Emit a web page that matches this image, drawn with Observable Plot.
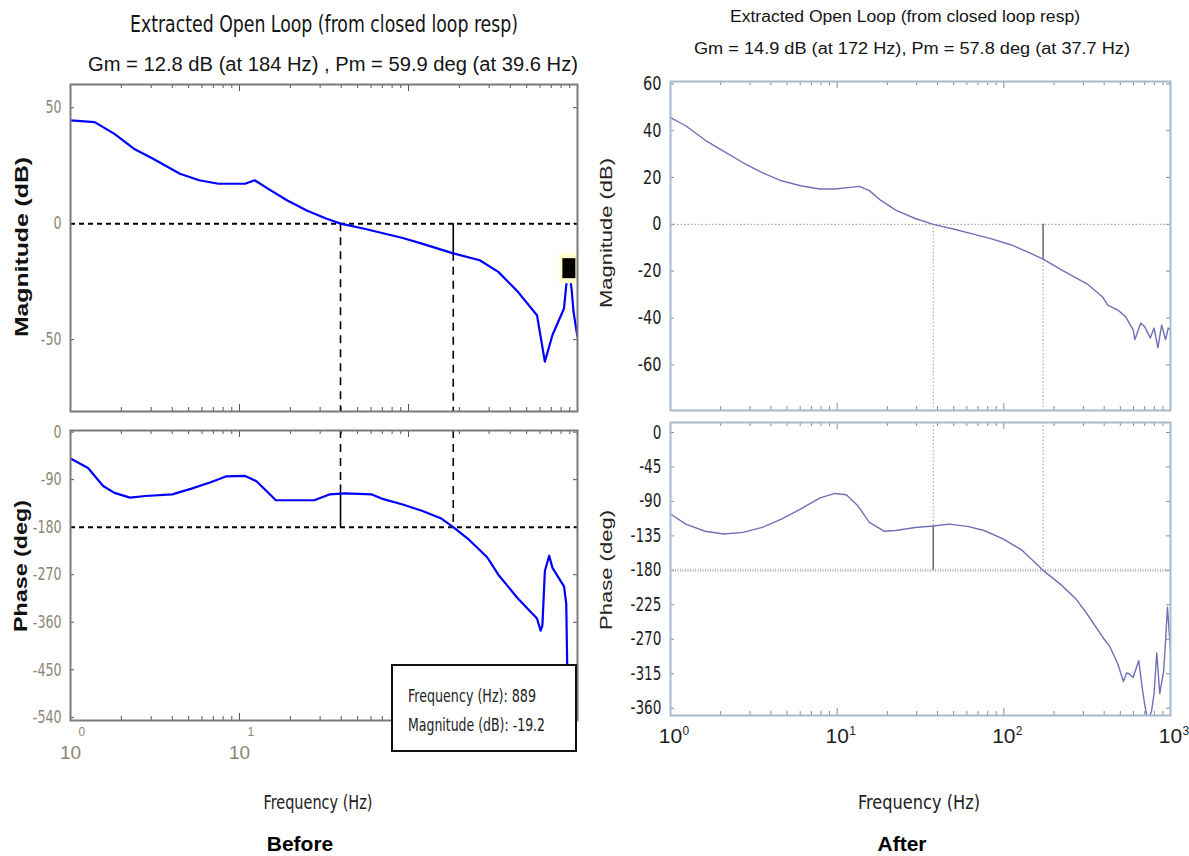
<!DOCTYPE html>
<html><head><meta charset="utf-8">
<script src="https://cdn.jsdelivr.net/npm/d3@7"></script>
<script src="https://cdn.jsdelivr.net/npm/@observablehq/plot@0.6"></script>
<style>
body{margin:0;background:#fff;}
#root{position:relative;width:1189px;height:856px;overflow:hidden;background:#fff;}
.panel{position:absolute;}
.panel svg{overflow:visible;}
</style></head><body><div id="root"></div>
<script>
// ---------- DATA ----------
const leftMagFreq = [1,1.39,1.82,2.37,3.08,4.44,5.77,7.5,10.8,12.3,14.8,19.2,25,32.5,39.6,54.8,92.5,120,184,264,340,444,576,641,711,832,858,889,901,925,947,1000];
const leftMagDb   = [44.5,43.8,38.7,32.3,28,21.5,18.7,17.2,17.2,18.7,15,10,5.7,2.2,0,-2.2,-6.2,-8.6,-12.8,-15.8,-20.8,-29.4,-39.5,-59.5,-48,-36.6,-26.5,-19.2,-22,-29,-38,-48.8];
const leftPhaseFreq = [1,1.27,1.56,1.82,2.25,2.77,4.0,5.2,6.75,8.3,10.8,12.6,14.8,16.4,27.7,34,42,60.7,71,92.5,120,155,184,225,292,340,444,576,605,620,641,680,711,832,858,870,875];
const leftPhaseDeg  = [-50,-68,-102,-115,-124,-121,-118,-107,-95,-84,-83,-93,-115,-129,-129,-118,-116,-118,-127,-137,-149,-163,-180,-202,-237,-270,-315,-353,-376,-366,-263,-234,-257,-292,-325,-450,-546];

const rightMagFreq = [1,1.24,1.61,2.09,2.73,3.55,4.63,6.03,7.84,9.7,12,13.6,15.6,18.3,22.6,29.4,37.7,49.8,68.4,84.5,110,143,172,219,317,391,420,483,537,596,612,662,699,756,797,840,885,934,969,1000];
const rightMagDb   = [45.6,42,36,31.2,26.3,22.1,18.6,16.5,15.1,15.1,15.8,16.2,14.4,10.2,6,2.5,0,-2,-4.5,-6.2,-8.7,-12.2,-14.9,-19.2,-25.5,-31,-34.5,-36.6,-39.4,-45,-49.2,-42.2,-43.6,-48.5,-44.3,-52.7,-43,-49.2,-44.3,-45];
const rightPhaseFreq = [1,1.235,1.61,2.09,2.73,3.55,4.63,6.02,7.84,9.69,11.35,13.3,15.6,19.2,22.5,29.4,37.7,47.2,61.5,76,98.9,129,172,218,270,316,391,434,482,522,545,565,596,645,680,699,728,768,797,827,862,910,934,959,1000];
const rightPhaseDeg  = [-106.5,-119.6,-129,-132.6,-130.4,-124,-113,-100,-85.7,-79.6,-81.3,-95.7,-117.4,-129,-128,-124,-122.2,-119.6,-123,-128,-139,-154,-180,-198,-217,-237,-267,-280,-302,-325,-314,-315,-320,-298,-337,-354,-375,-365,-341,-288,-341,-311,-272,-228,-285];

// margins (read from the titles)
const leftPmFreq = 39.6, leftGmFreq = 184, leftGm = 12.8, leftPmTop = -100;
const rightPmFreq = 37.7, rightGmFreq = 172, rightGm = 14.9, rightPm = 57.8;
const leftTip = {f: 889, v: -19.2};

// ticks
const leftMagTicks = [50, 0, -50];
const leftPhaseTicks = [0, -90, -180, -270, -360, -450, -540];
const rightMagTicks = [60, 40, 20, 0, -20, -40, -60];
const rightPhaseTicks = [0, -45, -90, -135, -180, -225, -270, -315, -360];
const leftXLabels = [1, 10];
const rightXLabels = [1, 10, 100, 1000];
const minorTicks = [2,3,4,5,6,7,8,9,20,30,40,50,60,70,80,90,200,300,400,500,600,700,800,900];
const majorInner = [10, 100];

const leftMagDomain = [-81, 60];
const leftPhaseDomain = [-546, 3];
const rightMagDomain = [-79.5, 61];
const rightPhaseDomain = [-369.5, 13];

// ---------- HELPERS ----------
const FONT_N = "'Liberation Sans Narrow','Arial Narrow','DejaVu Sans Condensed','Liberation Sans',Arial,sans-serif";
const FONT = "'Liberation Sans',Arial,sans-serif";
const root = document.getElementById("root");
function place(svg, left, top) {
  const d = document.createElement("div");
  d.className = "panel"; d.style.left = left + "px"; d.style.top = top + "px";
  d.appendChild(svg); root.appendChild(d);
}
function squeeze(svg, factor) {
  d3.select(svg).selectAll('g[aria-label="y-axis tick label"] text').each(function() {
    const l = this.getComputedTextLength();
    if (l > 0) { this.setAttribute("textLength", l * factor); this.setAttribute("lengthAdjust", "spacingAndGlyphs"); }
  });
}
const zip = (fs, vs) => fs.map((f, i) => ({f, v: vs[i]}));
function insideTicks(innerW, innerH, yTicks, stroke, len, majorLen) {
  return [
    Plot.tickX(minorTicks, {x: d => d, insetBottom: innerH - len, stroke, strokeWidth: 1}),
    Plot.tickX(minorTicks, {x: d => d, insetTop: innerH - len, stroke, strokeWidth: 1}),
    Plot.tickX(majorInner, {x: d => d, insetBottom: innerH - majorLen, stroke, strokeWidth: 1}),
    Plot.tickX(majorInner, {x: d => d, insetTop: innerH - majorLen, stroke, strokeWidth: 1}),
    Plot.tickY(yTicks, {y: d => d, insetRight: innerW - len, stroke, strokeWidth: 1}),
    Plot.tickY(yTicks, {y: d => d, insetLeft: innerW - len, stroke, strokeWidth: 1})
  ];
}
const tallRect = {draw(ctx, size) { const r = Math.sqrt(size / Math.PI); ctx.rect(-0.65 * r, -r, 1.3 * r, 2 * r); ctx.closePath(); }};

// ---------- LEFT MAGNITUDE ----------
{
  const W = 600, H = 346, mt = 10, mb = 9, ml = 70, mr = 23;
  const iw = W - ml - mr, ih = H - mt - mb;
  const svg = Plot.plot({
    width: W, height: H, marginTop: mt, marginBottom: mb, marginLeft: ml, marginRight: mr,
    x: {type: "log", domain: [1, 1000], axis: null},
    y: {domain: leftMagDomain, axis: null},
    style: {fontFamily: FONT_N, background: "transparent"},
    marks: [
      Plot.axisY({ticks: leftMagTicks, tickSize: 0, tickPadding: 9, tickFormat: d => String(d), fontSize: 18, fill: "#8b8677", label: null, fontFamily: FONT_N}),
      ...insideTicks(iw, ih, leftMagTicks, "#555", 4, 7),
      Plot.ruleY([0], {stroke: "#000", strokeWidth: 2, strokeDasharray: "5,4"}),
      Plot.ruleX([leftPmFreq], {y1: 0, y2: leftMagDomain[0], stroke: "#000", strokeWidth: 1.6, strokeDasharray: "8,6"}),
      Plot.ruleX([leftGmFreq], {y1: -leftGm, y2: leftMagDomain[0], stroke: "#000", strokeWidth: 1.6, strokeDasharray: "8,6"}),
      Plot.ruleX([leftGmFreq], {y1: 0, y2: -leftGm, stroke: "#000", strokeWidth: 1.6}),
      Plot.line(zip(leftMagFreq, leftMagDb), {x: "f", y: "v", stroke: "#0000ff", strokeWidth: 2.2, clip: true}),
      Plot.dot([leftTip], {x: "f", y: "v", symbol: tallRect, r: 15, fill: "#ffffcc", stroke: "none"}),
      Plot.dot([leftTip], {x: "f", y: "v", symbol: tallRect, r: 10, fill: "#000", stroke: "none"}),
      Plot.frame({stroke: "#7a7a7a", strokeWidth: 2})
    ]
  });
  place(svg, 0, 74);
  squeeze(svg, 0.78);
}

// ---------- LEFT PHASE ----------
{
  const W = 600, H = 380, mt = 10, mb = 80, ml = 70, mr = 23;
  const iw = W - ml - mr, ih = H - mt - mb;
  const svg = Plot.plot({
    width: W, height: H, marginTop: mt, marginBottom: mb, marginLeft: ml, marginRight: mr,
    x: {type: "log", domain: [1, 1000], axis: null},
    y: {domain: leftPhaseDomain, axis: null},
    style: {fontFamily: FONT_N, background: "transparent"},
    marks: [
      Plot.axisY({ticks: leftPhaseTicks, tickSize: 0, tickPadding: 9, tickFormat: d => String(d), fontSize: 18, fill: "#8b8677", label: null, fontFamily: FONT_N}),
      ...insideTicks(iw, ih, leftPhaseTicks, "#555", 4, 7),
      Plot.ruleY([-180], {stroke: "#000", strokeWidth: 2, strokeDasharray: "5,4"}),
      Plot.ruleX([leftPmFreq], {y1: leftPhaseDomain[1], y2: leftPmTop, stroke: "#000", strokeWidth: 1.6, strokeDasharray: "8,6"}),
      Plot.ruleX([leftPmFreq], {y1: leftPmTop, y2: -180, stroke: "#000", strokeWidth: 1.6}),
      Plot.ruleX([leftGmFreq], {y1: leftPhaseDomain[1], y2: -180, stroke: "#000", strokeWidth: 1.6, strokeDasharray: "8,6"}),
      Plot.line(zip(leftPhaseFreq, leftPhaseDeg), {x: "f", y: "v", stroke: "#0000ff", strokeWidth: 2.2, clip: true}),
      Plot.frame({stroke: "#7a7a7a", strokeWidth: 2}),
      Plot.text(leftXLabels, {x: d => d, frameAnchor: "bottom", text: () => "10", dy: 38, fontSize: 19, fill: "#8b8677", fontFamily: FONT}),
      Plot.text(leftXLabels, {x: d => d, frameAnchor: "bottom", text: d => String(Math.round(Math.log10(d))), textAnchor: "start", dx: 8, dy: 15, fontSize: 12, fill: "#8b8677", fontFamily: FONT})
    ]
  });
  place(svg, 0, 420);
  squeeze(svg, 0.78);
}

// ---------- RIGHT MAGNITUDE ----------
{
  const W = 599, H = 349, mt = 10, mb = 10, ml = 80, mr = 19;
  const iw = W - ml - mr, ih = H - mt - mb;
  const svg = Plot.plot({
    width: W, height: H, marginTop: mt, marginBottom: mb, marginLeft: ml, marginRight: mr,
    x: {type: "log", domain: [1, 1000], axis: null},
    y: {domain: rightMagDomain, axis: null},
    style: {fontFamily: FONT_N, background: "transparent"},
    marks: [
      Plot.axisY({ticks: rightMagTicks, tickSize: 0, tickPadding: 9, tickFormat: d => String(d), fontSize: 19, fill: "#1e1e1e", label: null, fontFamily: FONT_N}),
      ...insideTicks(iw, ih, rightMagTicks, "#8a8a8a", 4, 7),
      Plot.ruleY([0], {stroke: "#9a9a9a", strokeWidth: 1, strokeDasharray: "1.5,2"}),
      Plot.ruleX([rightPmFreq], {y1: 0, y2: rightMagDomain[0], stroke: "#9a9a9a", strokeWidth: 1, strokeDasharray: "1.5,2"}),
      Plot.ruleX([rightGmFreq], {y1: -rightGm, y2: rightMagDomain[0], stroke: "#9a9a9a", strokeWidth: 1, strokeDasharray: "1.5,2"}),
      Plot.ruleX([rightGmFreq], {y1: 0, y2: -rightGm, stroke: "#444", strokeWidth: 1.2}),
      Plot.line(zip(rightMagFreq, rightMagDb), {x: "f", y: "v", stroke: "#7070b4", strokeWidth: 1.4, clip: true}),
      Plot.frame({stroke: "#a7b9cf", strokeWidth: 2})
    ]
  });
  place(svg, 590, 71);
  squeeze(svg, 0.85);
}

// ---------- RIGHT PHASE ----------
{
  const W = 599, H = 380, mt = 10, mb = 77, ml = 80, mr = 19;
  const iw = W - ml - mr, ih = H - mt - mb;
  const svg = Plot.plot({
    width: W, height: H, marginTop: mt, marginBottom: mb, marginLeft: ml, marginRight: mr,
    x: {type: "log", domain: [1, 1000], axis: null},
    y: {domain: rightPhaseDomain, axis: null},
    style: {fontFamily: FONT_N, background: "transparent"},
    marks: [
      Plot.axisY({ticks: rightPhaseTicks, tickSize: 0, tickPadding: 9, tickFormat: d => String(d), fontSize: 19, fill: "#1e1e1e", label: null, fontFamily: FONT_N}),
      ...insideTicks(iw, ih, rightPhaseTicks, "#8a8a8a", 4, 7),
      Plot.ruleY([-180], {stroke: "#b5b5b5", strokeWidth: 3, strokeDasharray: "1,1.5"}),
      Plot.ruleX([rightPmFreq], {y1: rightPhaseDomain[1], y2: -180 + rightPm, stroke: "#9a9a9a", strokeWidth: 1, strokeDasharray: "1.5,2"}),
      Plot.ruleX([rightPmFreq], {y1: -180 + rightPm, y2: -180, stroke: "#444", strokeWidth: 1.2}),
      Plot.ruleX([rightGmFreq], {y1: rightPhaseDomain[1], y2: -180, stroke: "#9a9a9a", strokeWidth: 1, strokeDasharray: "1.5,2"}),
      Plot.line(zip(rightPhaseFreq, rightPhaseDeg), {x: "f", y: "v", stroke: "#7070b4", strokeWidth: 1.4, clip: true}),
      Plot.frame({stroke: "#a7b9cf", strokeWidth: 2}),
      Plot.text(rightXLabels, {x: d => d, frameAnchor: "bottom", text: () => "10", dy: 27, fontSize: 21, fill: "#1e1e1e", fontFamily: FONT}),
      Plot.text(rightXLabels, {x: d => d, frameAnchor: "bottom", text: d => String(Math.round(Math.log10(d))), textAnchor: "start", dx: 12, dy: 19, fontSize: 12, fill: "#1e1e1e", fontFamily: FONT})
    ]
  });
  place(svg, 590, 412);
  squeeze(svg, 0.8);
}

// ---------- OVERLAY TEXT ----------
const ov = d3.select(root).append("svg")
  .attr("width", 1189).attr("height", 856)
  .style("position", "absolute").style("left", "0px").style("top", "0px");
function txt(x, y, s, o) {
  const t = ov.append("text").attr("x", x).attr("y", y).text(s)
    .attr("font-family", o.family || FONT).attr("font-size", o.size)
    .attr("font-weight", o.weight || "normal").attr("fill", o.fill || "#111")
    .attr("text-anchor", o.anchor || "middle");
  if (o.len) t.attr("textLength", o.len).attr("lengthAdjust", "spacingAndGlyphs");
  if (o.rotate) t.attr("transform", `rotate(-90,${x},${y})`).attr("dominant-baseline", "central");
  return t;
}
// left titles
txt(324, 32, "Extracted Open Loop (from closed loop resp)", {size: 23, family: FONT_N, len: 388, fill: "#151515"});
txt(333, 71, "Gm = 12.8 dB (at 184 Hz) ,  Pm = 59.9 deg (at 39.6 Hz)", {size: 20, family: FONT, len: 490, fill: "#151515"});
// right titles
txt(905, 22, "Extracted Open Loop (from closed loop resp)", {size: 16, len: 350, fill: "#151515"});
txt(912, 54, "Gm = 14.9 dB (at 172 Hz), Pm = 57.8 deg (at 37.7 Hz)", {size: 16, len: 436, fill: "#151515"});
// y labels
txt(22, 247, "Magnitude (dB)", {size: 18, weight: "bold", len: 180, rotate: true, fill: "#111"});
txt(21, 566, "Phase (deg)", {size: 18, weight: "bold", len: 132, rotate: true, fill: "#111"});
txt(606, 233, "Magnitude (dB)", {size: 17, len: 150, rotate: true, fill: "#2a2222"});
txt(606, 570, "Phase (deg)", {size: 17, len: 120, rotate: true, fill: "#2a2222"});
// x labels
txt(318, 809, "Frequency (Hz)", {size: 19, family: FONT_N, len: 109, fill: "#222"});
txt(919, 809, "Frequency (Hz)", {size: 20, family: FONT_N, len: 122, fill: "#222"});
txt(300, 851, "Before", {size: 21, weight: "bold", fill: "#000"});
txt(902, 851, "After", {size: 21, weight: "bold", fill: "#000"});
// data tip box
ov.append("rect").attr("x", 392).attr("y", 665).attr("width", 184).attr("height", 86)
  .attr("fill", "#fff").attr("stroke", "#111").attr("stroke-width", 2);
txt(408, 702, `Frequency (Hz): ${leftTip.f}`, {size: 17, family: FONT_N, anchor: "start", len: 128, fill: "#222"});
txt(408, 731, `Magnitude (dB): ${leftTip.v}`, {size: 17, family: FONT_N, anchor: "start", len: 137, fill: "#222"});
</script></body></html>
